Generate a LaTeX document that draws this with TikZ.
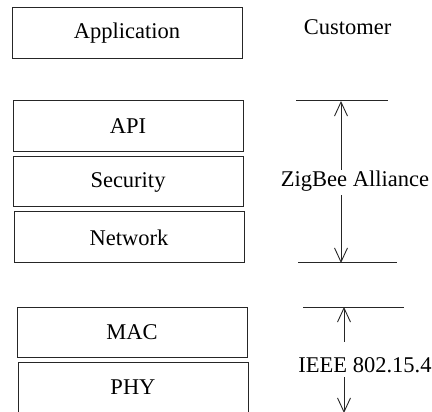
\documentclass[tikz,border=0pt]{standalone}
\usepackage{fontspec}
\setmainfont{Liberation Serif}
\usetikzlibrary{arrows.meta}
\begin{document}
\begin{tikzpicture}[x=1pt,y=-1pt,
  every node/.style={font=\fontsize{22.5}{27}\selectfont},
  layer/.style={draw=black!85,line width=1pt,minimum width=230pt,minimum height=51pt,inner sep=0pt},
  label/.style={inner sep=0pt},
  rule/.style={draw=black!85,line width=1pt},
  arr/.style={draw=black!85,line width=1pt,-{Straight Barb[length=14pt,width=13pt,line width=0.9pt]}}]
\useasboundingbox (0,0) rectangle (432,412);
\clip (0,0) rectangle (432,412);
% layer boxes
\node[layer] (app) at (127,33.5) {Application};
\node[layer] (api) at (128,126.5) {API};
\node[layer,minimum height=50pt] (sec) at (128,182) {Security};
\node[layer] (net) at (129,237.5) {Network};
\node[layer,minimum height=50pt] (mac) at (132,332) {MAC};
\node[layer] (phy) at (133,387.5) {PHY};
% labels
\node[label] (cust) at (347.5,27.5) {Customer};
\node[label,anchor=base,text height=17pt,text depth=8pt] (zig) at (355,187) {ZigBee Alliance};
\node[label,anchor=base,text height=30pt,text depth=5pt] (ieee) at (365,372) {IEEE 802.15.4};
% ZigBee bracket
\coordinate (zt1) at (296,101); \coordinate (zt2) at (388,101);
\coordinate (zb1) at (298,263); \coordinate (zb2) at (397,263);
\coordinate (zt) at (341,101); \coordinate (zb) at (341,263);
\draw[rule] (zt1) -- (zt2);
\draw[rule] (zb1) -- (zb2);
\draw[arr] (zig.north -| zt) -- (zt);
\draw[arr] (zig.south -| zb) -- (zb);
% IEEE bracket
\coordinate (it1) at (303,307); \coordinate (it2) at (404,307);
\coordinate (it) at (344,307); \coordinate (ib) at (344,413);
\draw[rule] (it1) -- (it2);
\draw[arr] (ieee.north -| it) -- (it);
\draw[arr] (ieee.south -| ib) -- (ib);
\end{tikzpicture}
\end{document}
